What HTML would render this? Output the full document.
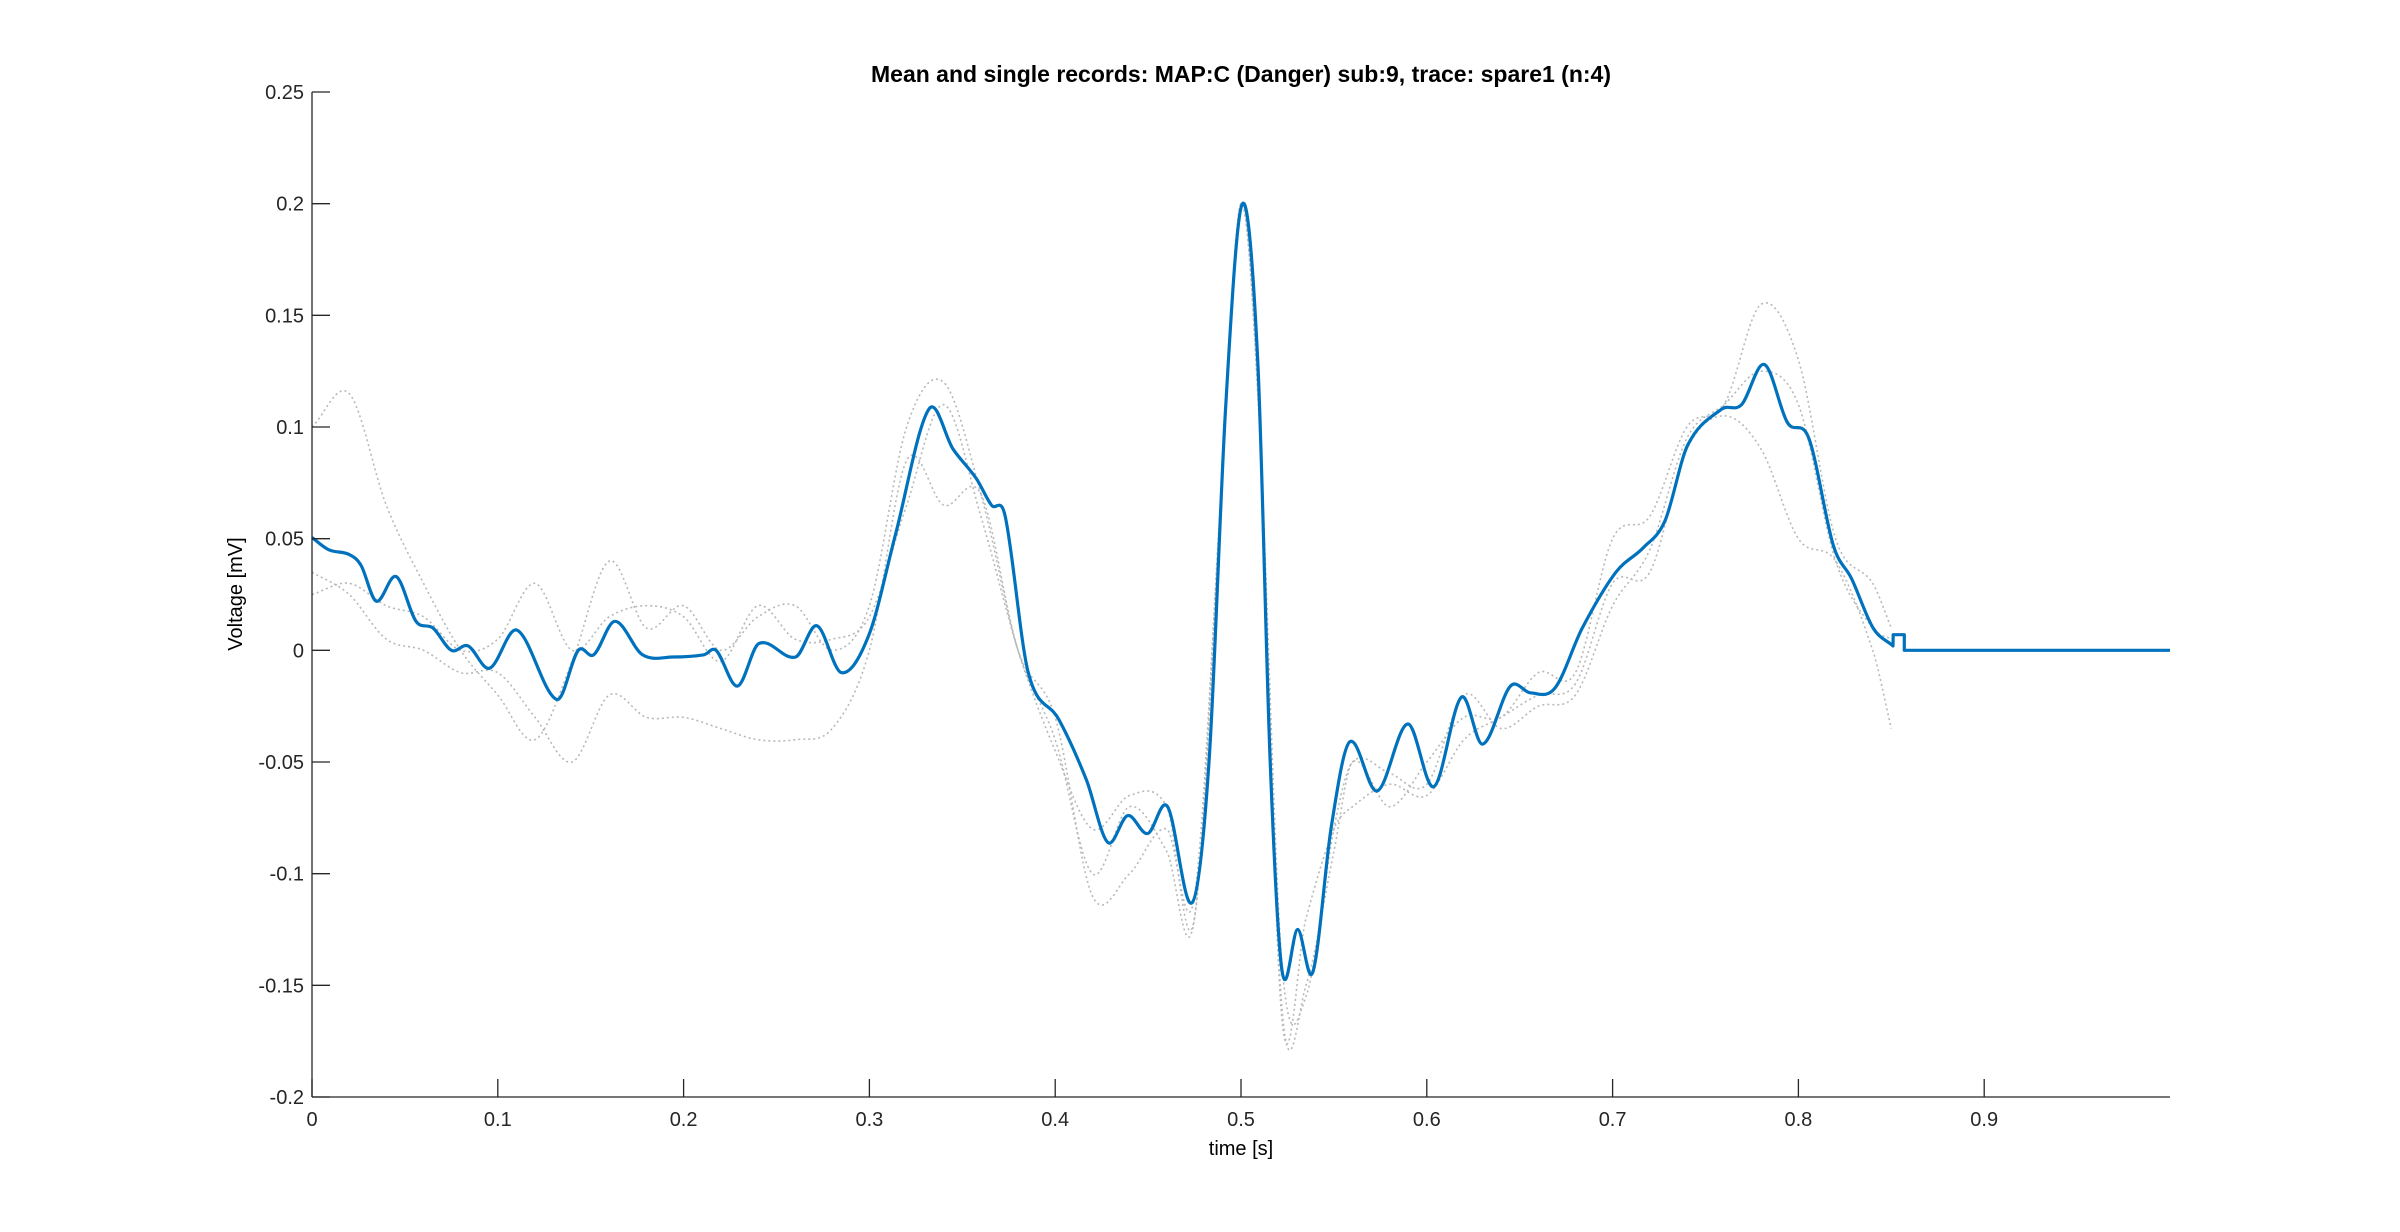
<!DOCTYPE html>
<html><head><meta charset="utf-8"><style>
html,body{margin:0;padding:0;background:#fff;width:2400px;height:1232px;overflow:hidden}
text{font-family:"Liberation Sans",Arial,sans-serif}
</style></head><body>
<svg id="chart" width="2400" height="1232" xmlns="http://www.w3.org/2000/svg">
<g id="singles"></g>
<g id="meanG"></g>
<g id="axes"></g>
<text x="1241" y="82" text-anchor="middle" font-size="23" font-weight="bold">Mean and single records: MAP:C (Danger) sub:9, trace: spare1 (n:4)</text>
<text x="1241" y="1155" text-anchor="middle" font-size="20">time [s]</text>
<text transform="translate(242,594) rotate(-90)" text-anchor="middle" font-size="20">Voltage [mV]</text>
</svg>
<script>
const xTicks=[0,0.1,0.2,0.3,0.4,0.5,0.6,0.7,0.8,0.9];
const xTickLabels=["0","0.1","0.2","0.3","0.4","0.5","0.6","0.7","0.8","0.9"];
const yTicks=[-0.2,-0.15,-0.1,-0.05,0,0.05,0.1,0.15,0.2,0.25];
const yTickLabels=["-0.2","-0.15","-0.1","-0.05","0","0.05","0.1","0.15","0.2","0.25"];
const meanT=[0,0.0091,0.0198,0.0264,0.0346,0.0453,0.056,0.0651,0.075,0.084,0.0956,0.1104,0.1318,0.1433,0.1516,0.1631,0.1779,0.1944,0.2109,0.2175,0.229,0.2405,0.2603,0.2718,0.285,0.2998,0.3138,0.332,0.3451,0.3575,0.3657,0.3731,0.3855,0.402,0.4168,0.4283,0.439,0.4498,0.4605,0.4737,0.4828,0.4918,0.5008,0.509,0.5157,0.5222,0.5305,0.5387,0.5486,0.5585,0.5733,0.5898,0.6038,0.6186,0.6301,0.645,0.6557,0.6689,0.6837,0.7018,0.7166,0.7282,0.7405,0.7587,0.7694,0.7817,0.7941,0.8056,0.8188,0.8287,0.8402,0.8509];
const meanV=[0.0505,0.045,0.043,0.038,0.022,0.033,0.013,0.01,0,0.002,-0.008,0.009,-0.022,0,-0.002,0.013,-0.002,-0.003,-0.002,0,-0.016,0.003,-0.003,0.011,-0.01,0.007,0.051,0.108,0.09,0.077,0.065,0.06,-0.01,-0.031,-0.058,-0.086,-0.074,-0.082,-0.07,-0.113,-0.05,0.11,0.2,0.13,-0.05,-0.144,-0.125,-0.144,-0.079,-0.041,-0.063,-0.033,-0.061,-0.021,-0.042,-0.016,-0.019,-0.017,0.01,0.035,0.046,0.058,0.092,0.108,0.11,0.128,0.102,0.095,0.047,0.032,0.01,0.002];
const tailT=[0.851,0.852,0.857,0.857,1.0];
const tailV=[0.007,0.007,0.007,0,0];
const singleT=[0,0.02,0.04,0.06,0.08,0.1,0.12,0.14,0.16,0.18,0.2,0.22,0.24,0.26,0.28,0.3,0.32,0.34,0.36,0.38,0.4,0.42,0.44,0.46,0.475,0.49,0.5,0.51,0.522,0.535,0.55,0.56,0.58,0.6,0.62,0.64,0.66,0.68,0.7,0.72,0.74,0.76,0.78,0.8,0.82,0.84,0.85];
const single1=[0.1,0.115,0.065,0.03,0,-0.02,-0.04,-0.005,0.04,0.01,0.02,0,0.015,0.02,0,0.02,0.1,0.12,0.07,0,-0.04,-0.1,-0.07,-0.09,-0.12,0.08,0.2,0.1,-0.16,-0.15,-0.09,-0.05,-0.07,-0.05,-0.03,-0.03,-0.01,-0.01,0.05,0.06,0.1,0.11,0.155,0.13,0.05,0.03,0.01];
const single2=[0.035,0.025,0.005,0,-0.01,-0.01,-0.03,-0.05,-0.02,-0.03,-0.03,-0.035,-0.04,-0.04,-0.035,0,0.085,0.065,0.07,0,-0.03,-0.11,-0.1,-0.08,-0.11,0.08,0.2,0.1,-0.165,-0.12,-0.08,-0.07,-0.06,-0.065,-0.04,-0.03,-0.02,-0.015,0.03,0.035,0.09,0.105,0.09,0.05,0.04,0,-0.035];
const single3=[0.025,0.03,0.02,0.015,0,0.005,0.03,0,0.015,0.02,0.015,-0.005,0.02,0.005,0.005,0.015,0.065,0.11,0.06,0,-0.045,-0.08,-0.065,-0.07,-0.12,0.08,0.2,0.1,-0.14,-0.155,-0.08,-0.05,-0.055,-0.06,-0.02,-0.035,-0.025,-0.02,0.02,0.045,0.095,0.11,0.125,0.11,0.04,0.01,0.005];

const L=312,R=2170,T=92,B=1097;
const X=t=>L+(t-0)/(1-0)*(R-L);
const Y=v=>B-(v+0.2)/0.45*(B-T);
const NS="http://www.w3.org/2000/svg";
function smooth(ts,vs){
  const p=ts.map((t,i)=>[X(t),Y(vs[i])]);
  let d="M"+p[0][0].toFixed(1)+","+p[0][1].toFixed(1);
  for(let i=0;i<p.length-1;i++){
    const p0=p[Math.max(0,i-1)],p1=p[i],p2=p[i+1],p3=p[Math.min(p.length-1,i+2)];
    const h=p2[0]-p1[0];
    const m1=(p2[1]-p0[1])/(p2[0]-p0[0]||1), m2=(p3[1]-p1[1])/(p3[0]-p1[0]||1);
    const c1x=p1[0]+h/3,c1y=p1[1]+m1*h/3;
    const c2x=p2[0]-h/3,c2y=p2[1]-m2*h/3;
    d+=" C"+c1x.toFixed(1)+","+c1y.toFixed(1)+" "+c2x.toFixed(1)+","+c2y.toFixed(1)+" "+p2[0].toFixed(1)+","+p2[1].toFixed(1);
  }
  return d;
}
const sg=document.getElementById('singles');
[single1,single2,single3].forEach((s,k)=>{
  const p=document.createElementNS(NS,'path');
  
  
  p.setAttribute('d',smooth(singleT,s));
  p.setAttribute('fill','none');p.setAttribute('stroke','#b8b8b8');
  p.setAttribute('stroke-width','1.6');p.setAttribute('stroke-dasharray','2 3');
  sg.appendChild(p);
});
const mg=document.getElementById('meanG');
const mp=document.createElementNS(NS,'path');


let d=smooth(meanT,meanV);
tailT.forEach((t,i)=>{d+=" L"+X(t).toFixed(1)+","+Y(tailV[i]).toFixed(1);});
mp.setAttribute('d',d);
mp.setAttribute('fill','none');mp.setAttribute('stroke','#0072BD');mp.setAttribute('stroke-width','3.2');mp.setAttribute('stroke-linejoin','round');
mg.appendChild(mp);
const ax=document.getElementById('axes');
function line(x1,y1,x2,y2,name){
  const l=document.createElementNS(NS,'line');
  
  
  l.setAttribute('x1',x1);l.setAttribute('y1',y1);l.setAttribute('x2',x2);l.setAttribute('y2',y2);
  l.setAttribute('stroke','#262626');l.setAttribute('stroke-width','1.3');
  ax.appendChild(l);
}
line(L,T,L,B,'y-axis-line');
line(L,B,R,B,'x-axis-line');
xTicks.forEach((t,i)=>{
  line(X(t),B,X(t),B-18,'x-tick');
  const tx=document.createElementNS(NS,'text');
  
  
  tx.setAttribute('x',X(t));tx.setAttribute('y',B+29);tx.setAttribute('text-anchor','middle');tx.setAttribute('font-size','20');tx.setAttribute('fill','#262626');
  tx.textContent=xTickLabels[i];ax.appendChild(tx);
});
yTicks.forEach((v,i)=>{
  line(L,Y(v),L+18,Y(v),'y-tick');
  const tx=document.createElementNS(NS,'text');
  
  
  tx.setAttribute('x',L-8);tx.setAttribute('y',Y(v)+7);tx.setAttribute('text-anchor','end');tx.setAttribute('font-size','20');tx.setAttribute('fill','#262626');
  tx.textContent=yTickLabels[i];ax.appendChild(tx);
});
</script>
</body></html>
